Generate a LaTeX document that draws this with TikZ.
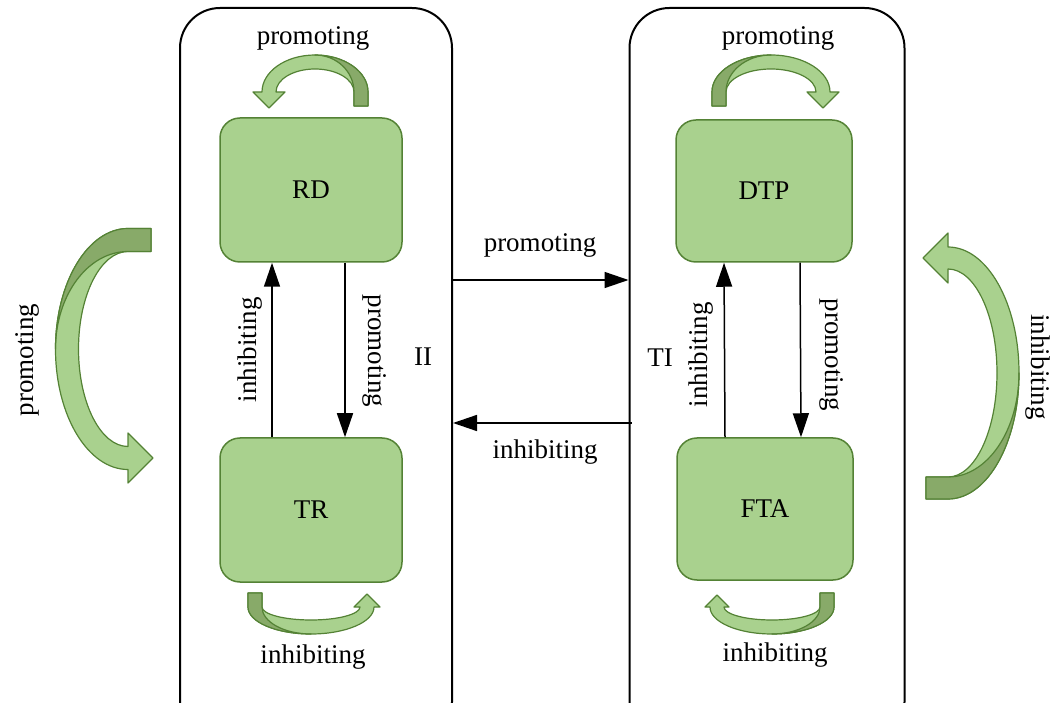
\documentclass[tikz,border=0pt]{standalone}
\usepackage{fontspec}
\setmainfont{Liberation Serif}
\usetikzlibrary{arrows.meta}
\definecolor{boxfill}{HTML}{A9D18E}
\definecolor{boxline}{HTML}{548235}
\definecolor{benddark}{HTML}{88AA69}
\tikzset{
  box/.style={draw=boxline, fill=boxfill, line width=1.5pt, rounded corners=20pt,
    minimum width=182pt, minimum height=144pt},
  group/.style={draw, line width=2pt, rounded corners=40pt, minimum height=734pt},
  flow/.style={line width=1.5pt, -{Triangle[length=24pt, width=16pt]}},
  bentbody/.style={draw=boxline, fill=boxfill, line width=1.2pt, line join=round}
}
\newcommand{\bentarrow}[5]{%
  \begin{scope}[#1]
    \filldraw[bentbody] ({#2+#4/2},{-#4}) -- ({#2+#4/2},0)
      arc[start angle=0, end angle=180, x radius={#2+#4/2}, y radius={#3+#4/2}]
      -- ({-#2-#5},0) -- ({-#2},{-#5}) -- ({-#2+#5},0) -- ({-#2+#4/2},0)
      arc[start angle=180, end angle=0, x radius={#2-#4/2}, y radius={#3-#4/2}]
      -- ({#2-#4/2},{-#4}) -- cycle;
    \filldraw[bentbody, fill=benddark] ({#2+#4/2},{-#4}) -- ({#2+#4/2},0)
      arc[start angle=0, end angle=90, x radius={#2+#4/2}, y radius={#3+#4/2}]
      arc[start angle=90, end angle=0, x radius={#2-#4/2}, y radius={#3+#4/2}]
      -- ({#2-#4/2},{-#4}) -- cycle;
  \end{scope}}
\begin{document}
\begin{tikzpicture}[x=1pt, y=1pt, font=\fontsize{27}{32}\selectfont]
    \clip (0,0) rectangle (1063,702);
    \node[group, minimum width=272pt] (left) at (316,327) {};
    \node[group, minimum width=275pt] (right) at (767,327) {};
    \node[box] (rd) at (311,512) {RD};
    \node[box] (tr) at (311,192) {TR};
    \node[box, minimum width=176pt, minimum height=142pt] (dtp) at (764,511) {DTP};
    \node[box, minimum width=176pt, minimum height=142pt] (fta) at (765,193) {FTA};
    \draw[flow] ([xshift=-39pt]tr.north) -- ([xshift=-39pt]rd.south);
    \draw[flow] ([xshift=34pt]rd.south) -- ([xshift=34pt]tr.north);
    \draw[flow] ([xshift=-40pt]fta.north) -- ([xshift=-40pt]dtp.south);
    \draw[flow] ([xshift=36pt]dtp.south) -- ([xshift=36pt]fta.north);
    \draw[flow] ([yshift=95pt]left.east) -- ([yshift=95pt]right.west);
    \draw[flow] ([xshift=3pt, yshift=-48pt]right.west) -- ([yshift=-48pt]left.east);
    \node[rotate=90] (rdinh) at (250,352) {inhibiting};
    \node[rotate=-90] (rdpro) at (375,351) {promoting};
    \node (ii) at (423,345) {II};
    \node (ti) at (660,344) {TI};
    \node[rotate=90] (dtpinh) at (701,347) {inhibiting};
    \node[rotate=-90] (dtppro) at (832,347) {promoting};
    \node (crosspro) at (540,457) {promoting};
    \node (crossinh) at (545,250) {inhibiting};
    \node (rdself) at (313,664) {promoting};
    \node (dtpself) at (778,664) {promoting};
    \node (trself) at (313,45) {inhibiting};
    \node (ftaself) at (775,47) {inhibiting};
    \node[rotate=90] (leftpro) at (27,342) {promoting};
    \node[rotate=-90] (rightinh) at (1038,335) {inhibiting};
    \bentarrow{shift={(315,610)}}{46}{30}{14}{16}
    \bentarrow{shift={(771,610)}, xscale=-1}{52}{30}{14}{16}
    \bentarrow{shift={(311,95)}, rotate=180}{56}{20}{14}{13}
    \bentarrow{shift={(772,95)}, yscale=-1}{55}{20}{14}{12}
    \bentarrow{shift={(128,353)}, rotate=90}{109}{61}{23}{25}
    \bentarrow{shift={(948,329)}, rotate=-90}{115}{60}{22}{25}
\end{tikzpicture}
\end{document}
